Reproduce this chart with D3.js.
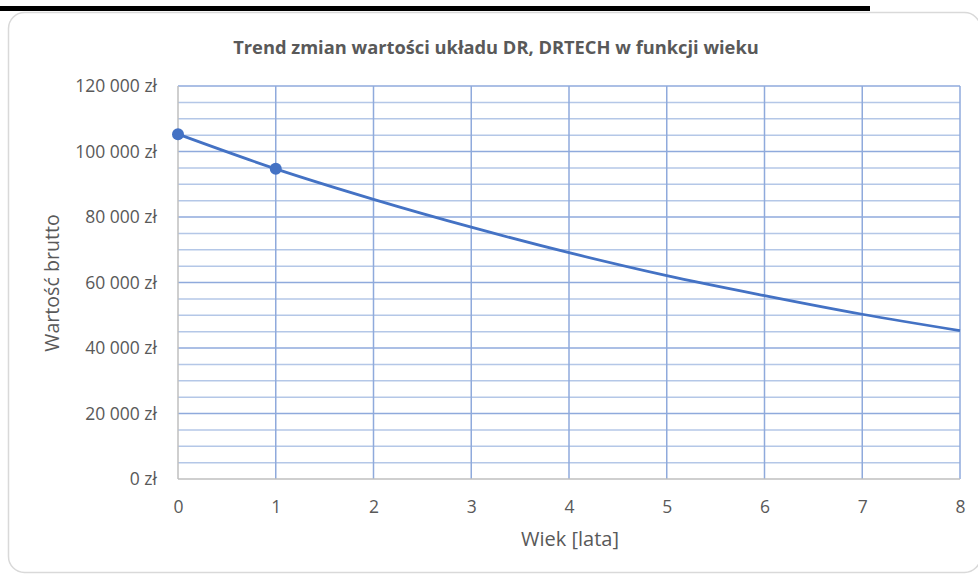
<!DOCTYPE html>
<html><head><meta charset="utf-8">
<script src="https://cdn.jsdelivr.net/npm/d3@7"></script>
<style>body{margin:0;background:#fff;}svg{display:block;}</style>
</head><body>
<svg id="c" width="978" height="575"></svg>
<script>
// Data
const title = "Trend zmian wartości układu DR, DRTECH w funkcji wieku";
const xLabel = "Wiek [lata]";
const yLabel = "Wartość brutto";
const pointAges = [0, 1];
const pointValues = [105300, 94700];
const trendAges = [0, 1, 2, 3, 4, 5, 6, 7, 8];
const trendValues = [105300, 94700, 85400, 76900, 69100, 62100, 56000, 50300, 45300];
const xTicks = [0, 1, 2, 3, 4, 5, 6, 7, 8];
const yTicks = [0, 20000, 40000, 60000, 80000, 100000, 120000];
const yMinorTicks = d3.range(0, 120001, 5000);

const svg = d3.select("#c");
const fmt = v => (v === 0 ? "0" : d3.format(",")(v).replace(/,/g, " ")) + " zł";

// top black bar + chart frame
svg.append("rect").attr("x", 0).attr("y", 6).attr("width", 870).attr("height", 5).attr("fill", "#000");
svg.append("rect").attr("x", 8.5).attr("y", 12.5).attr("width", 972).attr("height", 560)
  .attr("rx", 16).attr("fill", "#fff").attr("stroke", "#d9d9d9").attr("stroke-width", 1.5);

const x = d3.scaleLinear().domain([0, 8]).range([178, 960]);
const y = d3.scaleLinear().domain([0, 120000]).range([479, 86]);

const g = svg.append("g");
// minor horizontal gridlines
g.selectAll(".minor").data(yMinorTicks.filter(v => v % 20000 !== 0)).join("line")
  .attr("x1", x(0)).attr("x2", x(8)).attr("y1", d => y(d)).attr("y2", d => y(d))
  .attr("stroke", "#b4c7e7").attr("stroke-width", 1.5);
// major horizontal gridlines
g.selectAll(".major").data(yTicks.filter(v => v > 0)).join("line")
  .attr("x1", x(0)).attr("x2", x(8)).attr("y1", d => y(d)).attr("y2", d => y(d))
  .attr("stroke", "#8faadc").attr("stroke-width", 1.5);
// vertical gridlines
g.selectAll(".vg").data(xTicks.filter(v => v > 0)).join("line")
  .attr("x1", d => x(d)).attr("x2", d => x(d)).attr("y1", y(0)).attr("y2", y(120000))
  .attr("stroke", "#8faadc").attr("stroke-width", 1.5);
// axis lines
svg.append("line").attr("x1", x(0)).attr("x2", x(0)).attr("y1", y(0)).attr("y2", y(120000))
  .attr("stroke", "#bfbfbf").attr("stroke-width", 1.5);
svg.append("line").attr("x1", x(0)).attr("x2", x(8)).attr("y1", y(0)).attr("y2", y(0))
  .attr("stroke", "#bfbfbf").attr("stroke-width", 1.5);

// axes tick labels via d3 axes
const font = "'Open Sans', 'Segoe UI', sans-serif";
const yAxis = svg.append("g").attr("transform", `translate(${x(0) - 21},0)`)
  .call(d3.axisLeft(y).tickValues(yTicks).tickFormat(fmt).tickSize(0).tickPadding(0));
yAxis.select(".domain").remove();
yAxis.selectAll("text").attr("fill", "#595959").attr("font-size", 17.5).attr("font-family", font).attr("dy", "0.32em");

const xAxis = svg.append("g").attr("transform", `translate(0,${y(0) + 22})`)
  .call(d3.axisBottom(x).tickValues(xTicks).tickFormat(d3.format("d")).tickSize(0).tickPadding(0));
xAxis.select(".domain").remove();
xAxis.selectAll("text").attr("fill", "#595959").attr("font-size", 17.5).attr("font-family", font);

// trend line
svg.append("path").datum(trendAges.map((a, i) => [a, trendValues[i]]))
  .attr("d", d3.line().x(d => x(d[0])).y(d => y(d[1])).curve(d3.curveMonotoneX))
  .attr("fill", "none").attr("stroke", "#4472c4").attr("stroke-width", 2.75);

// points
svg.selectAll(".pt").data(pointAges.map((a, i) => [a, pointValues[i]])).join("circle")
  .attr("cx", d => x(d[0])).attr("cy", d => y(d[1])).attr("r", 6).attr("fill", "#4472c4");

// titles
svg.append("text").attr("x", 496).attr("y", 54).attr("text-anchor", "middle")
  .attr("font-family", font).attr("font-weight", "bold").attr("font-size", 18.3).attr("fill", "#595959").text(title);
svg.append("text").attr("x", 570).attr("y", 546).attr("text-anchor", "middle")
  .attr("font-family", font).attr("font-size", 20).attr("fill", "#595959").text(xLabel);
svg.append("text").attr("transform", "translate(59,283) rotate(-90)").attr("text-anchor", "middle")
  .attr("font-family", font).attr("font-size", 19.6).attr("fill", "#595959").text(yLabel);
</script>
</body></html>
